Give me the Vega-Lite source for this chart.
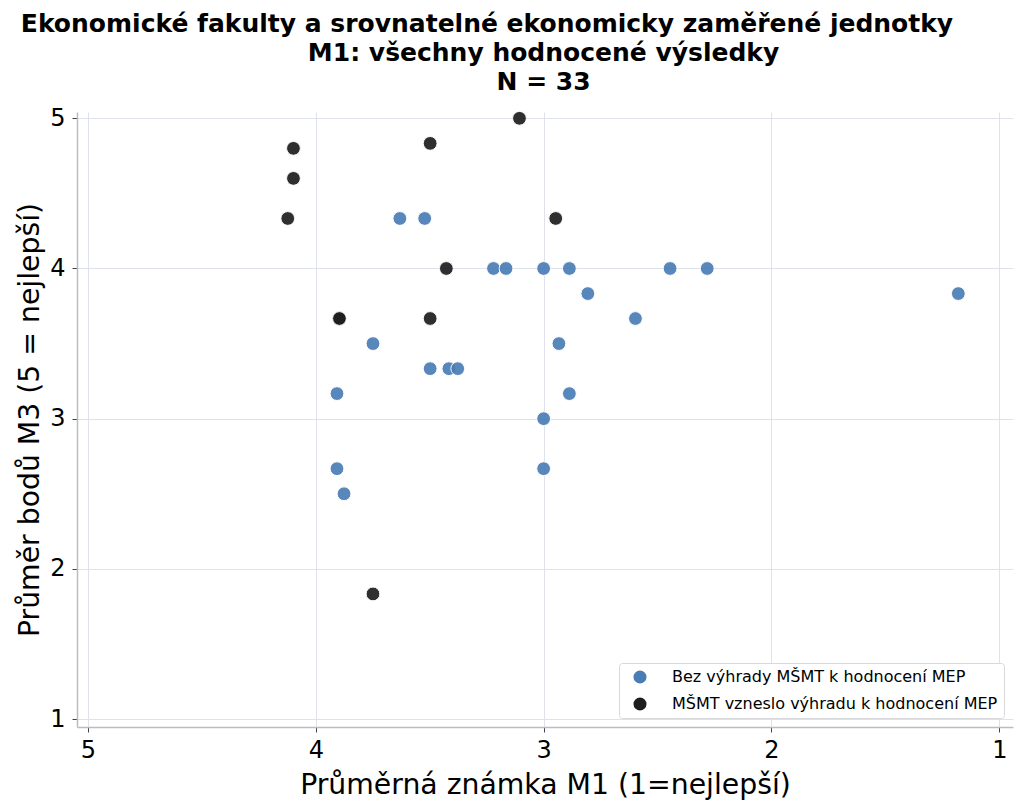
{
  "$schema": "https://vega.github.io/schema/vega-lite/v6.json",
  "width": 936,
  "height": 615,
  "autosize": {"type": "none"},
  "padding": {"left": 77, "top": 112, "right": 11, "bottom": 85},
  "background": "white",
  "config": {
    "font": "DejaVu Sans",
    "view": {"stroke": null}
  },
  "title": {
    "text": [
      "Ekonomické fakulty a srovnatelné ekonomicky zaměřené jednotky",
      "\u200b\u00a0\u00a0\u00a0\u00a0\u00a0\u00a0\u00a0\u00a0\u00a0\u00a0\u00a0\u00a0\u00a0M1: všechny hodnocené výsledky",
      "\u200b\u00a0\u00a0\u00a0\u00a0\u00a0\u00a0\u00a0\u00a0\u00a0\u00a0\u00a0\u00a0\u00a0N = 33"
    ],
    "font": "DejaVu Sans",
    "fontSize": 25,
    "fontWeight": "bold",
    "lineHeight": 29,
    "anchor": "middle",
    "dx": -58,
    "color": "black",
    "offset": 11
  },
  "data": {
    "values": [
      {"m1": 3.106, "m3": 5.0, "skupina": "MŠMT vzneslo výhradu k hodnocení MEP"},
      {"m1": 4.098, "m3": 4.8, "skupina": "MŠMT vzneslo výhradu k hodnocení MEP"},
      {"m1": 4.098, "m3": 4.6, "skupina": "MŠMT vzneslo výhradu k hodnocení MEP"},
      {"m1": 4.123, "m3": 4.333, "skupina": "MŠMT vzneslo výhradu k hodnocení MEP"},
      {"m1": 3.498, "m3": 4.833, "skupina": "MŠMT vzneslo výhradu k hodnocení MEP"},
      {"m1": 2.947, "m3": 4.333, "skupina": "MŠMT vzneslo výhradu k hodnocení MEP"},
      {"m1": 3.427, "m3": 4.0, "skupina": "MŠMT vzneslo výhradu k hodnocení MEP"},
      {"m1": 3.898, "m3": 3.667, "skupina": "MŠMT vzneslo výhradu k hodnocení MEP"},
      {"m1": 3.896, "m3": 3.667, "skupina": "MŠMT vzneslo výhradu k hodnocení MEP"},
      {"m1": 3.498, "m3": 3.667, "skupina": "MŠMT vzneslo výhradu k hodnocení MEP"},
      {"m1": 3.749, "m3": 1.833, "skupina": "MŠMT vzneslo výhradu k hodnocení MEP"},
      {"m1": 3.631, "m3": 4.333, "skupina": "Bez výhrady MŠMT k hodnocení MEP"},
      {"m1": 3.522, "m3": 4.333, "skupina": "Bez výhrady MŠMT k hodnocení MEP"},
      {"m1": 3.22, "m3": 4.0, "skupina": "Bez výhrady MŠMT k hodnocení MEP"},
      {"m1": 3.165, "m3": 4.0, "skupina": "Bez výhrady MŠMT k hodnocení MEP"},
      {"m1": 3.0, "m3": 4.0, "skupina": "Bez výhrady MŠMT k hodnocení MEP"},
      {"m1": 2.887, "m3": 4.0, "skupina": "Bez výhrady MŠMT k hodnocení MEP"},
      {"m1": 2.445, "m3": 4.0, "skupina": "Bez výhrady MŠMT k hodnocení MEP"},
      {"m1": 2.282, "m3": 4.0, "skupina": "Bez výhrady MŠMT k hodnocení MEP"},
      {"m1": 2.806, "m3": 3.833, "skupina": "Bez výhrady MŠMT k hodnocení MEP"},
      {"m1": 1.18, "m3": 3.833, "skupina": "Bez výhrady MŠMT k hodnocení MEP"},
      {"m1": 2.597, "m3": 3.667, "skupina": "Bez výhrady MŠMT k hodnocení MEP"},
      {"m1": 3.749, "m3": 3.5, "skupina": "Bez výhrady MŠMT k hodnocení MEP"},
      {"m1": 2.933, "m3": 3.5, "skupina": "Bez výhrady MŠMT k hodnocení MEP"},
      {"m1": 3.498, "m3": 3.333, "skupina": "Bez výhrady MŠMT k hodnocení MEP"},
      {"m1": 3.416, "m3": 3.333, "skupina": "Bez výhrady MŠMT k hodnocení MEP"},
      {"m1": 3.377, "m3": 3.333, "skupina": "Bez výhrady MŠMT k hodnocení MEP"},
      {"m1": 3.907, "m3": 3.167, "skupina": "Bez výhrady MŠMT k hodnocení MEP"},
      {"m1": 2.887, "m3": 3.167, "skupina": "Bez výhrady MŠMT k hodnocení MEP"},
      {"m1": 3.0, "m3": 3.0, "skupina": "Bez výhrady MŠMT k hodnocení MEP"},
      {"m1": 3.907, "m3": 2.667, "skupina": "Bez výhrady MŠMT k hodnocení MEP"},
      {"m1": 3.0, "m3": 2.667, "skupina": "Bez výhrady MŠMT k hodnocení MEP"},
      {"m1": 3.876, "m3": 2.5, "skupina": "Bez výhrady MŠMT k hodnocení MEP"}
    ]
  },
  "mark": {"type": "circle", "size": 190, "stroke": "white", "strokeWidth": 1, "opacity": 0.92},
  "encoding": {
    "x": {
      "field": "m1",
      "type": "quantitative",
      "title": "Průměrná známka M1 (1=nejlepší)",
      "scale": {"domain": [5.048, 0.94], "nice": false, "zero": false},
      "axis": {
        "values": [5, 4, 3, 2, 1],
        "format": "d",
        "labelFontSize": 24,
        "labelColor": "black",
        "labelPadding": 6,
        "titleFontSize": 28.3,
        "titleFontWeight": "normal",
        "titleColor": "black",
        "titlePadding": 9,
        "tickSize": 5,
        "tickColor": "#444",
        "domainColor": "#b8bcc4",
        "domainWidth": 1.5,
        "gridColor": "#dfe2ea",
        "gridWidth": 1
      }
    },
    "y": {
      "field": "m3",
      "type": "quantitative",
      "title": "Průměr bodů M3 (5 = nejlepší)",
      "scale": {"domain": [0.947, 5.042], "nice": false, "zero": false},
      "axis": {
        "values": [1, 2, 3, 4, 5],
        "format": "d",
        "labelFontSize": 24,
        "labelColor": "black",
        "labelPadding": 7,
        "titleFontSize": 28.3,
        "titleFontWeight": "normal",
        "titleColor": "black",
        "titlePadding": 5,
        "tickSize": 5,
        "tickColor": "#444",
        "domainColor": "#b8bcc4",
        "domainWidth": 1.5,
        "gridColor": "#dfe2ea",
        "gridWidth": 1
      }
    },
    "color": {
      "field": "skupina",
      "type": "nominal",
      "scale": {
        "domain": ["Bez výhrady MŠMT k hodnocení MEP", "MŠMT vzneslo výhradu k hodnocení MEP"],
        "range": ["#4a7db6", "#1e1e1e"]
      },
      "legend": {
        "title": null,
        "orient": "bottom-right",
        "offset": 9,
        "labelFontSize": 16,
        "labelLimit": 0,
        "labelColor": "black",
        "labelOffset": 24,
        "symbolSize": 170,
        "symbolOffset": 7,
        "symbolStrokeWidth": 0,
        "symbolOpacity": 1,
        "rowPadding": 11,
        "padding": 6,
        "fillColor": "white",
        "strokeColor": "#d6d8dc",
        "cornerRadius": 3
      }
    }
  }
}
